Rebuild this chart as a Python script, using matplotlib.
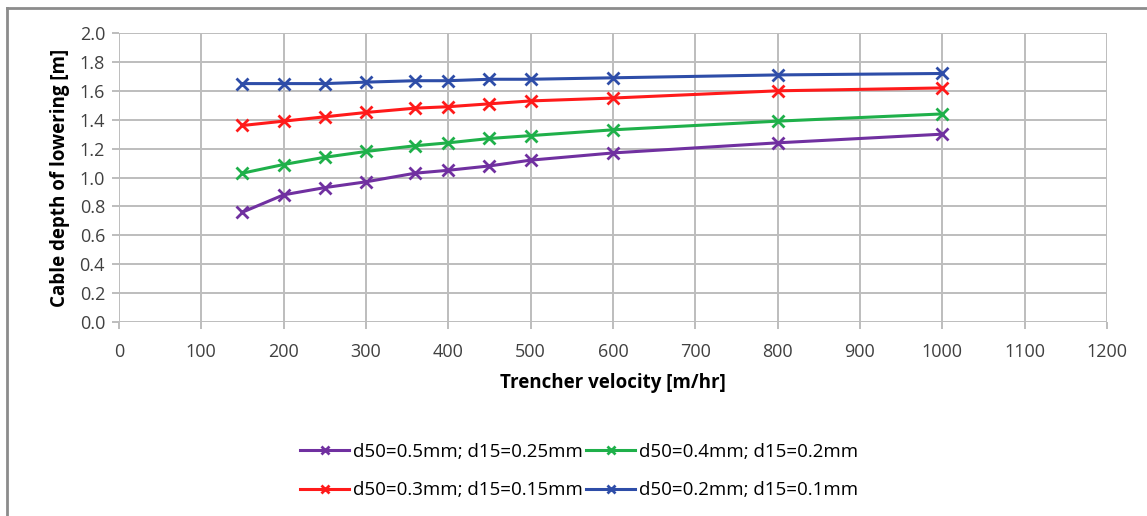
import matplotlib
matplotlib.use("Agg")
import matplotlib.pyplot as plt
from matplotlib.lines import Line2D

velocity = [150, 200, 250, 300, 360, 400, 450, 500, 600, 800, 1000]

depth_05 = [0.76, 0.88, 0.93, 0.97, 1.03, 1.05, 1.08, 1.12, 1.17, 1.24, 1.30]
depth_04 = [1.03, 1.09, 1.14, 1.18, 1.22, 1.24, 1.27, 1.29, 1.33, 1.39, 1.44]
depth_03 = [1.36, 1.39, 1.42, 1.45, 1.48, 1.49, 1.51, 1.53, 1.55, 1.60, 1.62]
depth_02 = [1.65, 1.65, 1.65, 1.66, 1.67, 1.67, 1.68, 1.68, 1.69, 1.71, 1.72]

labels = [
    "d50=0.5mm; d15=0.25mm",
    "d50=0.3mm; d15=0.15mm",
    "d50=0.4mm; d15=0.2mm",
    "d50=0.2mm; d15=0.1mm",
]

plt.rcParams["font.family"] = ["Open Sans", "DejaVu Sans"]

fig = plt.figure(figsize=(11.47, 5.16), dpi=100)
ax = fig.add_axes([0.1037, 0.376, 0.8613, 0.560])

series = [
    (depth_05, "#7030A0", labels[0]),
    (depth_03, "#FF1A1A", labels[1]),
    (depth_04, "#1FB04A", labels[2]),
    (depth_02, "#2E4DA8", labels[3]),
]
for vals, col, lab in series:
    ax.plot(velocity, vals, color=col, linewidth=2.2, marker="x",
            markersize=8.5, markeredgewidth=2.0, label=lab)

ax.set_xlim(0, 1200)
ax.set_ylim(0, 2.0)
ax.set_xticks(range(0, 1201, 100))
ax.set_yticks([i * 0.2 for i in range(11)])
ax.set_yticklabels([f"{i * 0.2:.1f}" for i in range(11)])
ax.grid(True, color="#BDBDBD", linewidth=1.4)
ax.set_axisbelow(True)
for s in ax.spines.values():
    s.set_visible(False)
ax.tick_params(axis="both", labelsize=13, colors="#BDBDBD", labelcolor="#404040",
               length=5, width=1.4)
ax.tick_params(axis="x", pad=10)
ax.tick_params(axis="y", pad=5)

ax.set_xlabel("Trencher velocity [m/hr]", fontsize=13.5, fontweight="bold",
              labelpad=9)
ax.set_ylabel("Cable depth of lowering [m]", fontsize=13.5, fontweight="bold",
              labelpad=7)

fig.legend(loc="center", bbox_to_anchor=(0.505, 0.087), ncol=2, frameon=False,
           fontsize=13.5, columnspacing=0.2, handlelength=2.6, handletextpad=0.2,
           labelspacing=1.1, markerscale=0.6)

# outer chart frame (top and left edges visible)
fig.add_artist(Line2D([7 / 1147, 1.0], [508 / 516, 508 / 516],
                      transform=fig.transFigure, color="#8C8C8C", linewidth=2))
fig.add_artist(Line2D([7 / 1147, 7 / 1147], [0.0, 508 / 516],
                      transform=fig.transFigure, color="#8C8C8C", linewidth=2))

fig.savefig("out.png", dpi=100, facecolor="white")
